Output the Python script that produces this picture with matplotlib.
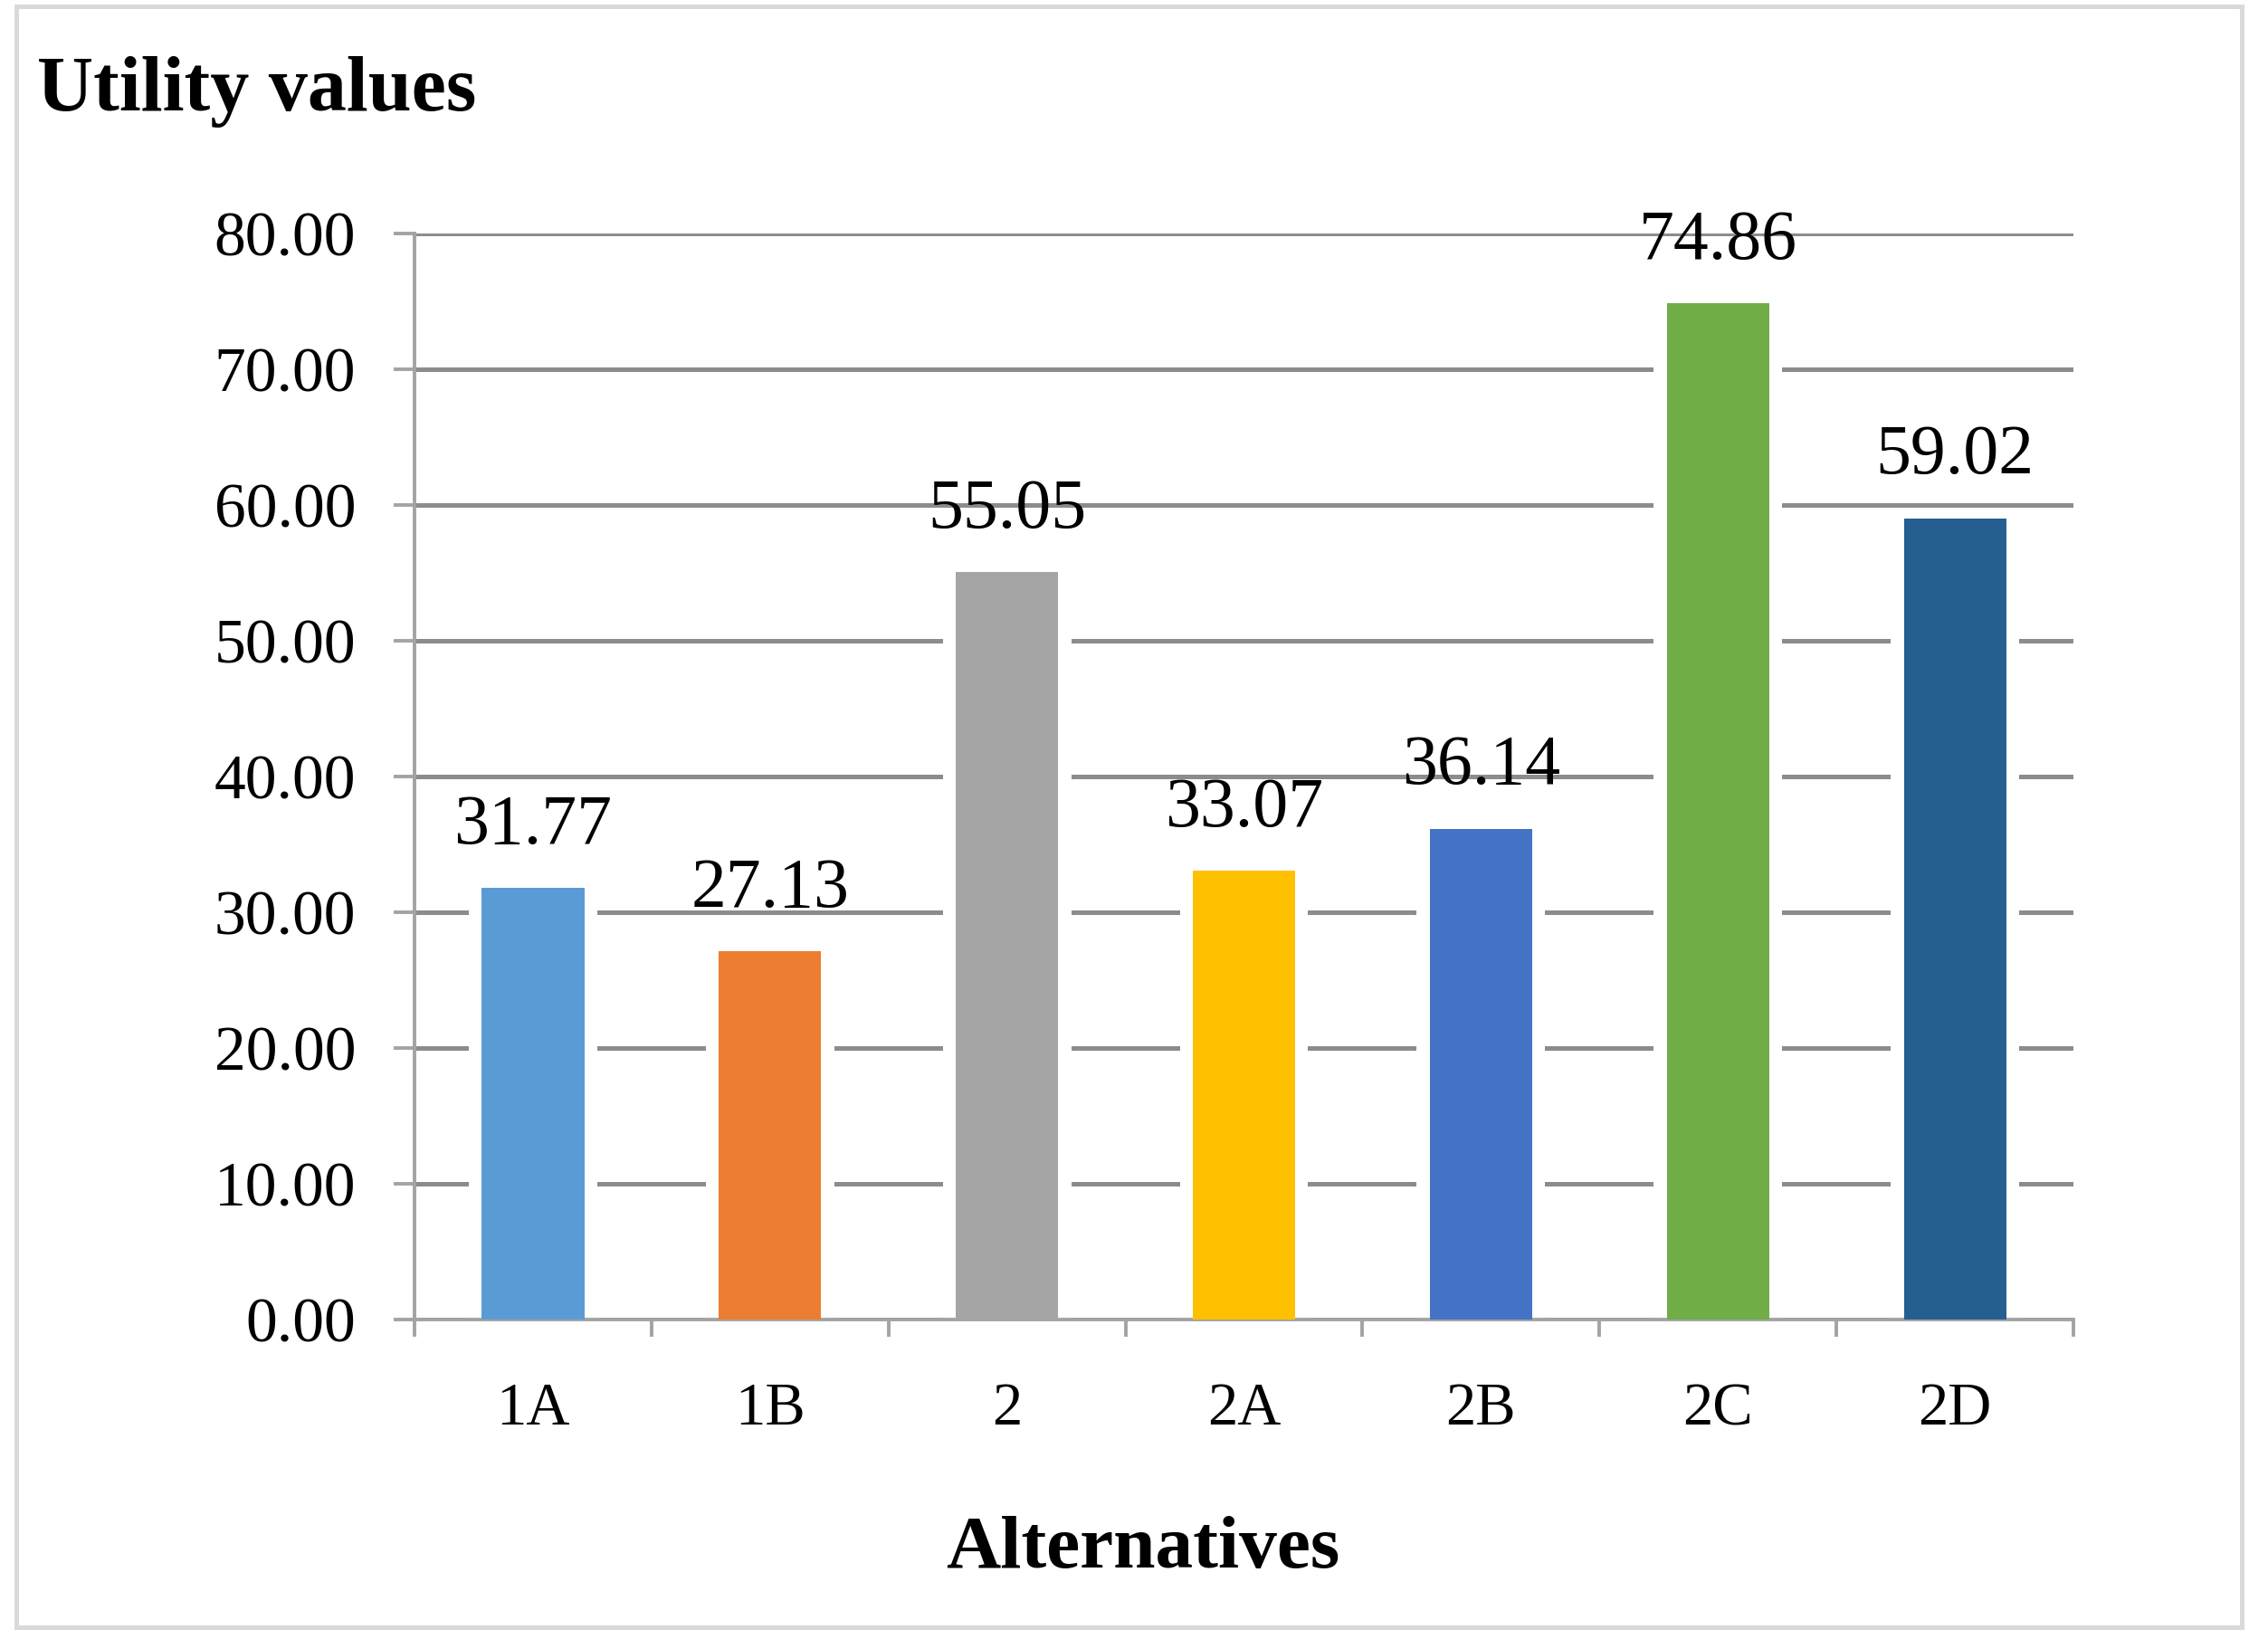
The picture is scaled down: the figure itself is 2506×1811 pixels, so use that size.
import matplotlib
matplotlib.use("Agg")
import matplotlib.pyplot as plt
from matplotlib.patches import Rectangle
import numpy as np

categories = ["1A", "1B", "2", "2A", "2B", "2C", "2D"]
values = [31.77, 27.13, 55.05, 33.07, 36.14, 74.86, 59.02]
colors = ["#5B9BD5", "#ED7D31", "#A5A5A5", "#FFC000", "#4472C4", "#70AD47", "#255E91"]
y_ticks = [0, 10, 20, 30, 40, 50, 60, 70, 80]

plt.rcParams["font.family"] = ["Liberation Serif", "DejaVu Serif"]

grid_color = "#8c8c8c"
axis_color = "#a3a3a3"

fig = plt.figure(figsize=(12.53, 9.055), dpi=200)
ax = fig.add_axes([0.1828, 0.1949, 0.9142 - 0.1828, 0.8575 - 0.1949])

x = np.arange(len(categories))
bar_w = 0.432
gap = 0.055

# white halo behind the bars breaks the gridlines like in the original
ax.bar(x, values, width=bar_w + 2 * gap, color="white", zorder=1.5)
ax.bar(x, values, width=bar_w, color=colors, zorder=3)

for xi, v in zip(x, values):
    ax.text(xi, v + 3.3, f"{v:.2f}", ha="center", va="baseline", fontsize=28, zorder=4)

ax.set_xlim(-0.5, len(categories) - 0.5)
ax.set_ylim(0, 80)
ax.set_yticks(y_ticks)
ax.set_yticklabels([f"{t:.2f}" for t in y_ticks])
ax.set_xticks(x)
ax.set_xticklabels(categories)
ax.set_xticks(np.arange(-0.5, len(categories)), minor=True)

ax.set_axisbelow(True)
ax.yaxis.grid(True, color=grid_color, linewidth=1.8, zorder=0.5)
ax.xaxis.grid(False)

for s in ["top", "right"]:
    ax.spines[s].set_visible(False)
for s in ["left", "bottom"]:
    ax.spines[s].set_color(axis_color)
    ax.spines[s].set_linewidth(1.4)
    ax.spines[s].set_zorder(2.5)

ax.tick_params(axis="y", direction="out", length=8.3, width=1.4, color=axis_color,
               labelsize=25, pad=15)
ax.tick_params(axis="x", which="major", length=0, labelsize=24, pad=25)
ax.tick_params(axis="x", which="minor", direction="out", length=6.8, width=1.4,
               color=axis_color)

fig.text(41 / 2506, 1 - 122 / 1811, "Utility values", fontsize=31, fontweight="bold",
         ha="left", va="baseline")
fig.text(1263 / 2506, 1 - 1732 / 1811, "Alternatives", fontsize=30, fontweight="bold",
         ha="center", va="baseline")

border = Rectangle((18 / 2506, 1 - 1798 / 1811), (2477 - 18) / 2506, (1798 - 7) / 1811,
                   transform=fig.transFigure, fill=False, edgecolor="#d9d9d9", linewidth=1.8)
fig.patches.append(border)

fig.savefig("out.png", dpi=200, facecolor="white")
